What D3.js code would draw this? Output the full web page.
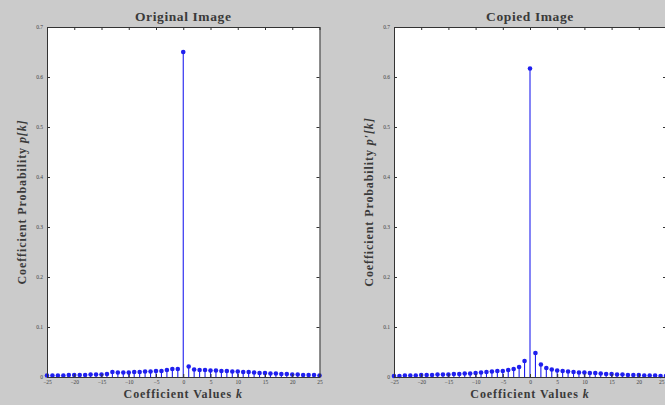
<!DOCTYPE html>
<html>
<head>
<meta charset="utf-8">
<script src="https://cdn.jsdelivr.net/npm/d3@7/dist/d3.min.js"></script>
<style>
  html, body { margin: 0; padding: 0; background: #cbcbcb; }
  svg { display: block; }
</style>
</head>
<body>
<svg id="chart" width="665" height="405"></svg>
<script>
// ---- data ----
const kValues = d3.range(-25, 26);
const originalProb = [
  0.003, 0.003, 0.003, 0.003, 0.004, 0.004, 0.004, 0.004, 0.005, 0.005,
  0.005, 0.006, 0.010, 0.009, 0.009, 0.009, 0.010, 0.010, 0.011, 0.011,
  0.012, 0.012, 0.014, 0.016, 0.016,
  0.650,
  0.021, 0.015, 0.014, 0.014, 0.013, 0.013, 0.012, 0.012, 0.011, 0.011,
  0.010, 0.010, 0.009, 0.008, 0.008, 0.007, 0.007, 0.006, 0.006, 0.005,
  0.005, 0.004, 0.004, 0.004, 0.003
];
const copiedProb = [
  0.002, 0.002, 0.003, 0.003, 0.003, 0.004, 0.004, 0.004, 0.005, 0.005,
  0.005, 0.006, 0.006, 0.007, 0.007, 0.008, 0.009, 0.010, 0.011, 0.012,
  0.012, 0.014, 0.016, 0.020, 0.032,
  0.617,
  0.048, 0.025, 0.018, 0.015, 0.013, 0.012, 0.011, 0.010, 0.009, 0.009,
  0.008, 0.008, 0.007, 0.006, 0.006, 0.005, 0.005, 0.004, 0.004, 0.004,
  0.003, 0.003, 0.003, 0.002, 0.002
];
const xTicks = [-25, -20, -15, -10, -5, 0, 5, 10, 15, 20, 25];
const yTicks = [0, 0.1, 0.2, 0.3, 0.4, 0.5, 0.6, 0.7];
const panelTitles = ["Original Image", "Copied Image"];
const yLabelMath = ["p[k]", "p\u2032[k]"];

// ---- drawing ----
const svg = d3.select("#chart");
const serif = "'Liberation Serif', 'DejaVu Serif', serif";
const stemColor = "#1f1fef";
const axisColor = "#333";
const W = 665;

function drawPanel(x0, x1, values, title, ylab) {
  const top = 27, bottom = 377;
  const x = d3.scaleLinear().domain([-25, 25]).range([x0, x1]);
  const y = d3.scaleLinear().domain([0, 0.7]).range([bottom, top]);
  const g = svg.append("g");

  g.append("rect").attr("x", x0).attr("y", top)
    .attr("width", x1 - x0).attr("height", bottom - top)
    .attr("fill", "#fff");

  const fmtY = d => d === 0 ? "0" : d3.format(".1f")(d);
  const bottomAxis = d3.axisBottom(x).tickValues(xTicks).tickSizeInner(-3).tickSizeOuter(0).tickPadding(3);
  const topAxis = d3.axisTop(x).tickValues(xTicks).tickSizeInner(-3).tickSizeOuter(0).tickFormat("");
  const leftAxis = d3.axisLeft(y).tickValues(yTicks).tickSizeInner(-3).tickSizeOuter(0).tickPadding(4).tickFormat(fmtY);
  const rightAxis = d3.axisRight(y).tickValues(yTicks).tickSizeInner(-3).tickSizeOuter(0).tickFormat("");

  const styleAxis = sel => {
    sel.selectAll("path").attr("stroke", axisColor).attr("stroke-width", 1);
    sel.selectAll("line").attr("stroke", axisColor);
    sel.selectAll("text").attr("fill", "#444").attr("font-size", 5.5).attr("font-family", serif);
  };

  g.selectAll("line.stem").data(kValues).join("line")
    .attr("class", "stem")
    .attr("x1", k => x(k)).attr("x2", k => x(k))
    .attr("y1", y(0)).attr("y2", (k, i) => y(values[i]))
    .attr("stroke", stemColor).attr("stroke-width", 1.1);
  g.selectAll("circle.mk").data(kValues).join("circle")
    .attr("class", "mk")
    .attr("cx", k => x(k)).attr("cy", (k, i) => y(values[i]))
    .attr("r", 2.3).attr("fill", stemColor);

  const bx = g.append("g").attr("transform", `translate(0,${bottom})`).call(bottomAxis).call(styleAxis);
  // keep labels at the window edge inside the picture
  bx.selectAll(".tick").each(function(d) {
    if (x(d) > W - 4) d3.select(this).select("text").attr("text-anchor", "end").attr("dx", (W - 1) - x(d));
  });
  g.append("g").attr("transform", `translate(0,${top})`).call(topAxis).call(styleAxis);
  g.append("g").attr("transform", `translate(${x0},0)`).call(leftAxis).call(styleAxis);
  g.append("g").attr("transform", `translate(${x1},0)`).call(rightAxis).call(styleAxis);

  g.append("text").attr("x", (x0 + x1) / 2).attr("y", 21)
    .attr("text-anchor", "middle").attr("font-family", serif)
    .attr("font-weight", "bold").attr("font-size", 13.5).attr("letter-spacing", 0.6)
    .attr("fill", "#3a3a3a")
    .text(title);

  const xl = g.append("text").attr("x", (x0 + x1) / 2).attr("y", 398)
    .attr("text-anchor", "middle").attr("font-family", serif)
    .attr("font-weight", "bold").attr("font-size", 12).attr("letter-spacing", 0.9)
    .attr("fill", "#3a3a3a");
  xl.append("tspan").text("Coefficient Values ");
  xl.append("tspan").attr("font-style", "italic").text("k");

  const yl = g.append("text")
    .attr("transform", `translate(${x0 - 21},${(top + bottom) / 2}) rotate(-90)`)
    .attr("text-anchor", "middle").attr("font-family", serif)
    .attr("font-weight", "bold").attr("font-size", 12).attr("letter-spacing", 0.9)
    .attr("fill", "#3a3a3a");
  yl.append("tspan").text("Coefficient Probability ");
  yl.append("tspan").attr("font-style", "italic").text(ylab);
}

drawPanel(47, 319.5, originalProb, panelTitles[0], yLabelMath[0]);
drawPanel(394, 666, copiedProb, panelTitles[1], yLabelMath[1]);
</script>
</body>
</html>
